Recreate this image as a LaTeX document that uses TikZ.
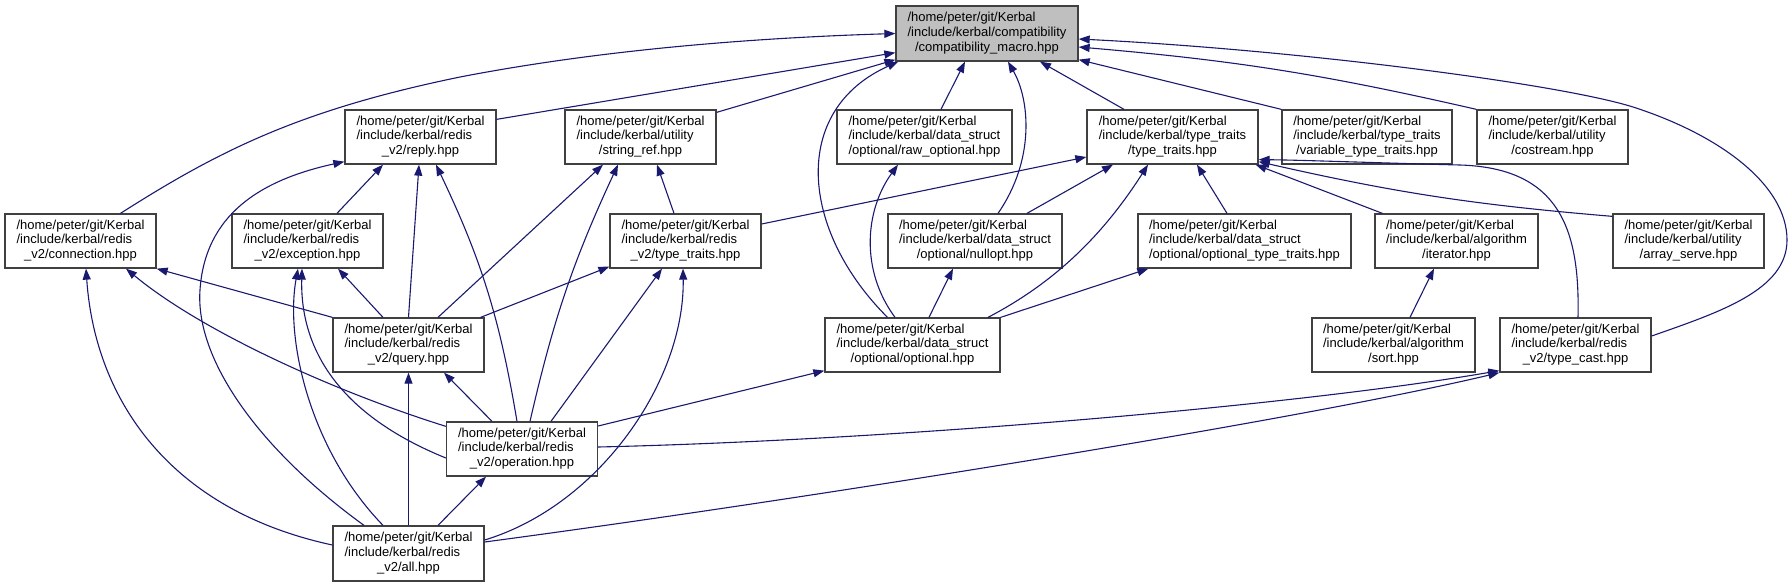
\documentclass[tikz,border=0pt]{standalone}
\usepackage{fontspec}
\setmainfont{Liberation Sans}
\usepackage{tikz}
\usetikzlibrary{arrows.meta}

\definecolor{edgeblue}{HTML}{191970}
\definecolor{boxline}{HTML}{404040}
\definecolor{curfile}{HTML}{BFBFBF}

% three-line file label: two left-aligned lines, last one centred
\newcommand{\fpath}[3]{\begin{tabular}{@{}l@{}}#1\\#2\\\multicolumn{1}{@{}c@{}}{#3}\end{tabular}}
\newcommand{\khome}{/home/peter/git/Kerbal}

\begin{document}
\begin{tikzpicture}[
  x=1pt, y=-1pt,
  file/.style={draw=boxline, line width=1.3pt, fill=white, inner sep=0pt,
               minimum height=54pt, font=\fontsize{13}{14.6}\selectfont},
  arr/.style={draw=edgeblue, line width=1.1pt,
              -{Triangle[length=11pt,width=8pt]}},
]
\useasboundingbox (0,0) rectangle (1792,587);

\node[file, fill=curfile, minimum width=182pt, minimum height=55pt] (main) at (987,33.5)
     {\fpath{\khome}{/include/kerbal/compatibility}{/compatibility\_macro.hpp}};

\node[file, minimum width=151pt] (reply) at (420.5,137) {\fpath{\khome}{/include/kerbal/redis}{\_v2/reply.hpp}};
\node[file, minimum width=151pt] (strref) at (640.5,137) {\fpath{\khome}{/include/kerbal/utility}{/string\_ref.hpp}};
\node[file, minimum width=175pt] (rawopt) at (924.5,137) {\fpath{\khome}{/include/kerbal/data\_struct}{/optional/raw\_optional.hpp}};
\node[file, minimum width=171pt] (tt) at (1172.5,137) {\fpath{\khome}{/include/kerbal/type\_traits}{/type\_traits.hpp}};
\node[file, minimum width=170pt] (vtt) at (1367,137) {\fpath{\khome}{/include/kerbal/type\_traits}{/variable\_type\_traits.hpp}};
\node[file, minimum width=151pt] (costream) at (1552.5,137) {\fpath{\khome}{/include/kerbal/utility}{/costream.hpp}};

\node[file, minimum width=151pt] (conn) at (80.5,241) {\fpath{\khome}{/include/kerbal/redis}{\_v2/connection.hpp}};
\node[file, minimum width=151pt] (exc) at (307.5,241) {\fpath{\khome}{/include/kerbal/redis}{\_v2/exception.hpp}};
\node[file, minimum width=151pt] (rtt) at (685.5,241) {\fpath{\khome}{/include/kerbal/redis}{\_v2/type\_traits.hpp}};
\node[file, minimum width=174pt] (nullopt) at (975,241) {\fpath{\khome}{/include/kerbal/data\_struct}{/optional/nullopt.hpp}};
\node[file, minimum width=213pt] (ott) at (1244.5,241) {\fpath{\khome}{/include/kerbal/data\_struct}{/optional/optional\_type\_traits.hpp}};
\node[file, minimum width=163pt] (iter) at (1456.5,241) {\fpath{\khome}{/include/kerbal/algorithm}{/iterator.hpp}};
\node[file, minimum width=151pt] (arrserve) at (1688.5,241) {\fpath{\khome}{/include/kerbal/utility}{/array\_serve.hpp}};

\node[file, minimum width=151pt] (query) at (408.5,345) {\fpath{\khome}{/include/kerbal/redis}{\_v2/query.hpp}};
\node[file, minimum width=175pt] (optional) at (912.5,345) {\fpath{\khome}{/include/kerbal/data\_struct}{/optional/optional.hpp}};
\node[file, minimum width=163pt] (sort) at (1393.5,345) {\fpath{\khome}{/include/kerbal/algorithm}{/sort.hpp}};
\node[file, minimum width=151pt] (typecast) at (1575.5,345) {\fpath{\khome}{/include/kerbal/redis}{\_v2/type\_cast.hpp}};

\node[file, minimum width=151pt] (operation) at (522,449) {\fpath{\khome}{/include/kerbal/redis}{\_v2/operation.hpp}};
\node[file, minimum width=151pt, minimum height=55pt] (all) at (408.5,553.5) {\fpath{\khome}{/include/kerbal/redis}{\_v2/all.hpp}};

% includes of compatibility_macro.hpp
\draw[arr] ([xshift=40pt]conn.north) .. controls (220,150) and (300,110) .. (460,77)
           .. controls (600,50) and (750,38) .. (main.west);
\draw[arr] ([yshift=-10pt]reply.north east) -- ([yshift=9pt]main.south west);
\draw[arr] ([yshift=-3pt]strref.north east) -- ([yshift=2pt]main.south west);
\draw[arr] ([xshift=-25pt]optional.north) .. controls (800,230) and (790,110) .. ([xshift=3pt]main.south west);
\draw[arr] ([xshift=16.5pt]rawopt.north) -- ([xshift=-22pt]main.south);
\draw[arr] ([xshift=23pt]nullopt.north) .. controls (1035,160) and (1030,100) .. ([xshift=21pt]main.south);
\draw[arr] ([xshift=-48.5pt]tt.north) -- ([xshift=53pt]main.south);
\draw[arr] (vtt.north west) -- ([yshift=2pt]main.south east);
\draw[arr] (costream.north west) to[bend right=4] ([yshift=-13.5pt]main.east);
\draw[arr] ([yshift=9pt]typecast.east) .. controls (1720,312) and (1787,290) .. (1787,240)
           .. controls (1787,185) and (1720,135) .. (1633,107)
           .. controls (1560,84) and (1300,50) .. ([yshift=-5.5pt]main.east);

% redis_v2/reply.hpp
\draw[arr] ([xshift=29.5pt]exc.north) -- ([xshift=-37.5pt]reply.south);
\draw[arr] (query.north) -- ([xshift=-1.5pt]reply.south);
\draw[arr] ([xshift=-5pt]operation.north) to[bend right=8] ([xshift=15.5pt]reply.south);
\draw[arr] ([xshift=-44.5pt]all.north) .. controls (260,450) and (195,360) .. (200,290)
           .. controls (205,215) and (260,180) .. ([yshift=3pt]reply.south west);

% utility/string_ref.hpp
\draw[arr] ([xshift=29.5pt]query.north) -- ([xshift=-37.5pt]strref.south);
\draw[arr] ([xshift=8pt]operation.north) to[bend left=6] ([xshift=-22.5pt]strref.south);
\draw[arr] ([xshift=-11.5pt]rtt.north) -- ([xshift=16.5pt]strref.south);

% redis_v2/connection.hpp
\draw[arr] (query.north west) -- (conn.south east);
\draw[arr] ([yshift=-5pt]operation.north west) .. controls (330,390) and (200,330) .. ([xshift=45.5pt]conn.south);
\draw[arr] ([yshift=8.5pt]all.west) .. controls (170,510) and (95,400) .. ([xshift=5.5pt]conn.south);

% redis_v2/exception.hpp
\draw[arr] ([xshift=-25.5pt]query.north) -- ([xshift=30.5pt]exc.south);
\draw[arr] ([yshift=-9pt]operation.west) .. controls (340,415) and (300,350) .. ([xshift=-5.5pt]exc.south);
\draw[arr] ([xshift=-25.5pt]all.north) .. controls (310,450) and (285,340) .. ([xshift=-9.5pt]exc.south);

% redis_v2/type_traits.hpp
\draw[arr] ([xshift=-4pt]query.north east) -- ([yshift=2pt]rtt.south west);
\draw[arr] ([xshift=29pt]operation.north) -- ([xshift=-23.5pt]rtt.south);
\draw[arr] ([yshift=13.5pt]all.east) .. controls (600,505) and (685,380) .. ([xshift=-2.5pt]rtt.south);

% type_traits/type_traits.hpp
\draw[arr] ([yshift=17pt]rtt.east) -- ([yshift=-20pt]tt.west);
\draw[arr] ([xshift=52pt]nullopt.north) -- ([xshift=-59.5pt]tt.south);
\draw[arr] ([xshift=75.5pt]optional.north) .. controls (1050,285) and (1100,240) .. ([xshift=-24.5pt]tt.south);
\draw[arr] ([xshift=-17.5pt]ott.north) -- ([xshift=24.5pt]tt.south);
\draw[arr] ([xshift=8pt]iter.north west) -- ([xshift=-3pt]tt.south east);
\draw[arr] ([yshift=-3pt]arrserve.north west) to[bend left=4] ([yshift=3pt]tt.south east);
\draw[arr] ([xshift=2.5pt]typecast.north) .. controls (1580,230) and (1560,168) .. (1460,165)
           .. controls (1380,163) and (1300,160) .. ([yshift=5pt]tt.south east);

% data_struct/optional
\draw[arr] ([xshift=-17.5pt]optional.north) .. controls (860,270) and (865,210) .. ([xshift=-26.5pt]rawopt.south);
\draw[arr] ([xshift=16.5pt]optional.north) -- ([xshift=-22pt]nullopt.south);
\draw[arr] (optional.north east) -- ([xshift=11pt]ott.south west);
\draw[arr] ([yshift=23pt]operation.east) -- ([yshift=2pt]optional.south west);

% algorithm
\draw[arr] ([xshift=16.5pt]sort.north) -- ([xshift=-22.5pt]iter.south);

% redis_v2 internals
\draw[arr] (all.north) -- (query.south);
\draw[arr] ([xshift=-30pt]operation.north) -- ([xshift=35.5pt]query.south);
\draw[arr] ([xshift=29.5pt]all.north) -- ([xshift=-36pt]operation.south);
\draw[arr] ([yshift=2pt]operation.east) .. controls (900,440) and (1300,405) .. ([yshift=2pt]typecast.south west);
\draw[arr] ([yshift=11.5pt]all.east) .. controls (800,500) and (1300,420) .. (typecast.south west);
\end{tikzpicture}
\end{document}
